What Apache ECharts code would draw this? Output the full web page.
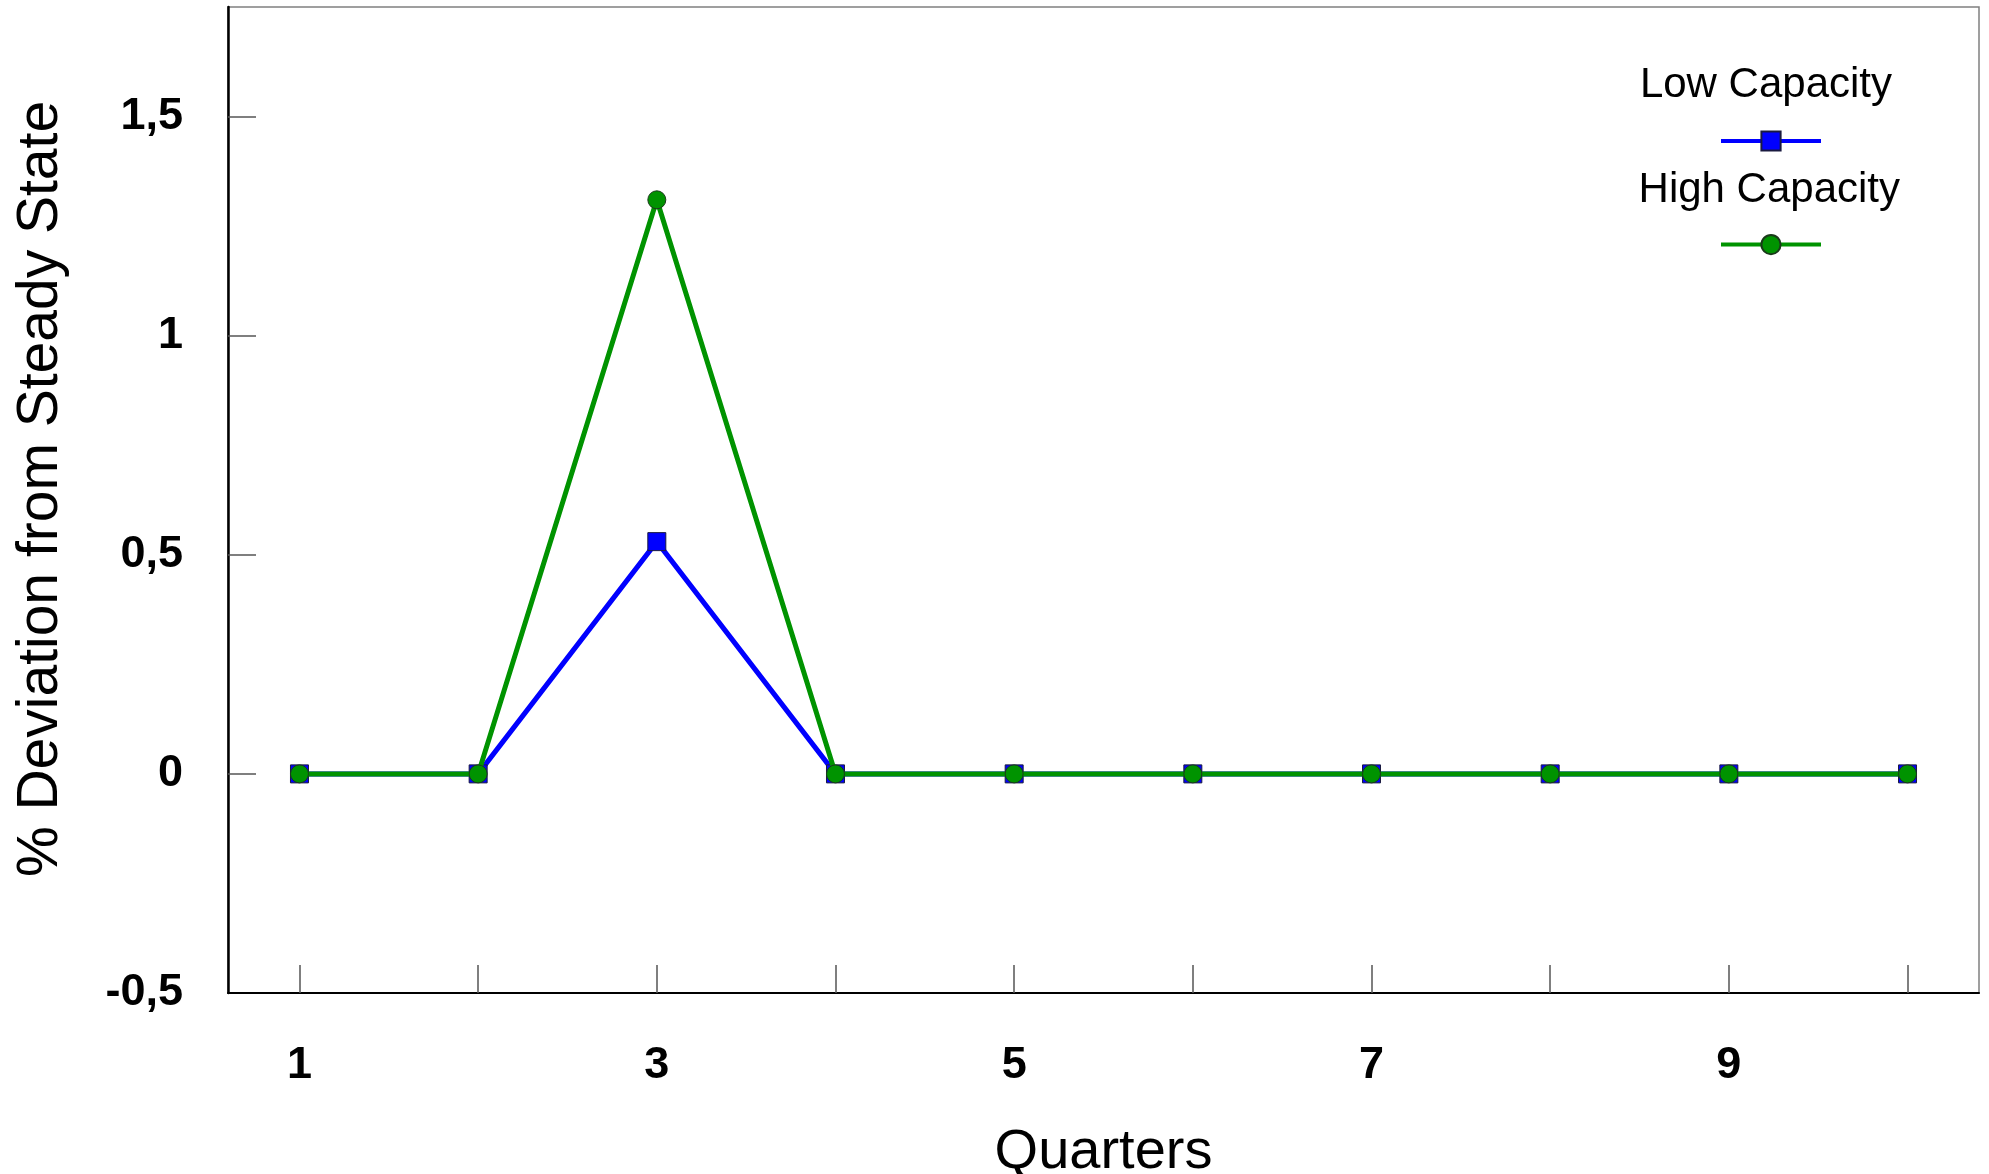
<!DOCTYPE html>
<html>
<head>
<meta charset="utf-8">
<script src="https://cdn.jsdelivr.net/npm/echarts@6/dist/echarts.min.js"></script>
<style>
html,body{margin:0;padding:0;background:#fff;}
#chart{width:1989px;height:1174px;}
</style>
</head>
<body>
<div id="chart"></div>
<script>
const quarters = [1, 2, 3, 4, 5, 6, 7, 8, 9, 10];
const lowCapacity = [0, 0, 0.53, 0, 0, 0, 0, 0, 0, 0];
const highCapacity = [0, 0, 1.31, 0, 0, 0, 0, 0, 0, 0];
const xTickValues = [1, 2, 3, 4, 5, 6, 7, 8, 9, 10];
const xLabelValues = [1, 3, 5, 7, 9];
const yTickValues = [0, 0.5, 1, 1.5];
const seriesNames = ['Low Capacity', 'High Capacity'];

const FONT = '"Liberation Sans", Arial, sans-serif';
const chart = echarts.init(document.getElementById('chart'));

const toPairs = (vals) => quarters.map((q, i) => [q, vals[i]]);

chart.setOption({
  animation: false,
  backgroundColor: '#ffffff',
  grid: {
    left: 228, top: 7, right: 10, bottom: 181,
    outerBoundsMode: 'none', containLabel: false,
    show: true, borderColor: '#808080', borderWidth: 1.5, backgroundColor: 'transparent'
  },
  xAxis: {
    type: 'value', min: 0.6, max: 10.4,
    name: 'Quarters', nameLocation: 'middle', nameGap: 132,
    nameTextStyle: { fontFamily: FONT, fontSize: 56, color: '#000' },
    axisLine: { show: true, onZero: false, lineStyle: { color: '#000', width: 2 } },
    axisTick: { show: true, inside: true, length: 28, customValues: xTickValues, lineStyle: { color: '#555', width: 1.5 } },
    axisLabel: { customValues: xLabelValues, margin: 50, fontFamily: FONT, fontSize: 45, fontWeight: 'bold', color: '#000' },
    splitLine: { show: false }
  },
  yAxis: {
    type: 'value', min: -0.5, max: 1.75, interval: 0.5,
    name: '% Deviation from Steady State', nameLocation: 'middle', nameGap: 158,
    nameTextStyle: { fontFamily: FONT, fontSize: 57, color: '#000', padding: [0, 0, 0, 22] },
    axisLine: { show: true, onZero: false, lineStyle: { color: '#000', width: 2.5 } },
    axisTick: { show: true, inside: true, length: 28, customValues: yTickValues, lineStyle: { color: '#555', width: 1.5 } },
    axisLabel: {
      margin: 45, fontFamily: FONT, fontSize: 45, fontWeight: 'bold', color: '#000',
      showMaxLabel: false,
      formatter: (v) => String(v).replace('.', ',')
    },
    splitLine: { show: false }
  },
  legend: {
    orient: 'vertical', right: 161, top: 124, itemWidth: 100, itemHeight: 24, itemGap: 81,
    data: [
      { name: seriesNames[0], lineStyle: { width: 4, color: '#0000ff' } },
      { name: seriesNames[1], lineStyle: { width: 4, color: '#009300' } }
    ],
    formatter: () => '', textStyle: { fontSize: 1 },
    selectedMode: false
  },
  graphic: [
    { type: 'text', right: 97, top: 64, style: { text: seriesNames[0], fontFamily: FONT, fontSize: 42, fill: '#000' } },
    { type: 'text', right: 89, top: 169, style: { text: seriesNames[1], fontFamily: FONT, fontSize: 42, fill: '#000' } }
  ],
  series: [
    {
      name: seriesNames[0], type: 'line', data: toPairs(lowCapacity),
      symbol: 'rect', symbolSize: 18,
      lineStyle: { color: '#0000ff', width: 5 },
      itemStyle: { color: '#0000ff', borderColor: '#1a1a40', borderWidth: 1 },
      z: 2
    },
    {
      name: seriesNames[1], type: 'line', data: toPairs(highCapacity),
      symbol: 'circle', symbolSize: 18,
      lineStyle: { color: '#009300', width: 5 },
      itemStyle: { color: '#009300', borderColor: '#1a3a1a', borderWidth: 1 },
      z: 3
    }
  ]
});
</script>
</body>
</html>
